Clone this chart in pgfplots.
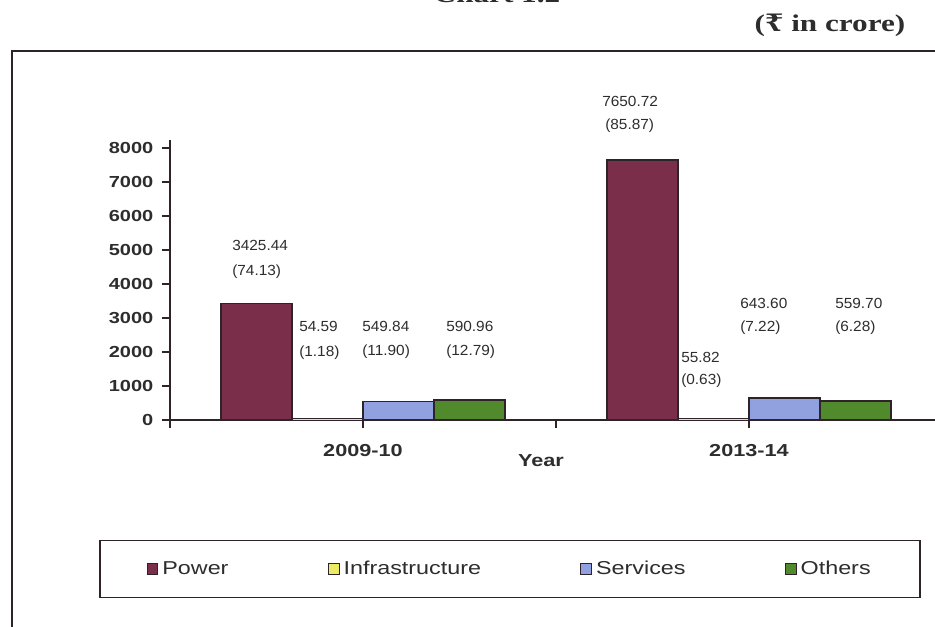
\documentclass[border=0pt]{standalone}
\usepackage{pgfplots}
\pgfplotsset{compat=1.18}
\usepackage{fontspec}
\setmainfont{Liberation Sans}[FakeStretch=1.25]
\newfontfamily\valfont{Liberation Sans}[FakeStretch=1.05]
\newfontfamily\serifb{Liberation Serif}[FakeStretch=1.3]
\newfontfamily\rupeefont{DejaVu Serif}[FakeStretch=1.1]
\definecolor{cpower}{RGB}{122,46,74}
\definecolor{cinfra}{RGB}{236,236,100}
\definecolor{cserv}{RGB}{145,160,222}
\definecolor{cother}{RGB}{80,138,45}
\definecolor{cline}{RGB}{45,35,40}
\definecolor{ctext}{RGB}{45,45,45}
\begin{document}
\begin{tikzpicture}
\begin{axis}[
  at={(127.5pt,154.5pt)}, anchor=south west,
  scale only axis, width=579pt, height=210pt,
  xmin=-0.5, xmax=1.5, ymin=0, ymax=8235,
  ybar=0pt, bar width=53.25pt,
  axis lines*=left,
  axis line style={line width=1.2pt, draw=cline},
  xtick={-0.5,0,0.5,1,1.5}, xticklabels={,2009-10,,2013-14,},
  ytick={0,1000,2000,3000,4000,5000,6000,7000,8000},
  tick align=outside, major tick length=6pt,
  tick style={line width=1pt, draw=cline},
  yticklabel style={font=\fontsize{12}{14}\selectfont\bfseries, xshift=-3pt, text=ctext},
  xticklabel style={font=\fontsize{13}{15}\selectfont\bfseries, yshift=-9pt, text=ctext},
  /pgf/number format/assume math mode=true,
  /pgf/number format/1000 sep={},
  clip=false,
  legend columns=4,
  legend cell align=left,
  legend style={at={(0.4404,-0.532)}, anchor=center, draw=cline, line width=1.1pt,
    inner xsep=35pt, inner ysep=13.5pt,
    font=\fontsize{14}{16}\selectfont, text=ctext,
    /tikz/every odd column/.append style={column sep=1pt},
    /tikz/every even column/.append style={column sep=72.5pt}},
  legend image code/.code={\draw[#1, line width=0.8pt, draw=cline] (0pt,-4pt) rectangle (8pt,4pt);},
]
\addplot[fill=cpower, draw=cline, line width=1.1pt] coordinates {(0,3425.44) (1,7650.72)};
\addplot[fill=cinfra, draw=cline, line width=0.6pt] coordinates {(0,54.59) (1,55.82)};
\addplot[fill=cserv, draw=cline, line width=1.1pt] coordinates {(0,549.84) (1,643.60)};
\addplot[fill=cother, draw=cline, line width=1.1pt] coordinates {(0,590.96) (1,559.70)};
\legend{Power, Infrastructure, Services, Others}
\end{axis}
\begin{scope}[x=0.75pt, y=-0.75pt, yshift=469.5pt]
  % outer frame
  \draw[line width=1.5pt, cline] (12,51) rectangle (980,700);
  % titles
  \node[anchor=base, font=\serifb\bfseries\fontsize{18}{20}\selectfont, text=ctext] at (497,3) {Chart 1.2};
  \node[anchor=center, font=\fontsize{18}{20}\selectfont\bfseries, text=ctext] at (830,25)
    {{\serifb (}{\rupeefont ₹}{\serifb\ in crore)}};
  \node[font=\fontsize{13}{15}\selectfont\bfseries, text=ctext] at (541,461) {Year};
  % value labels
  \begin{scope}[every node/.style={anchor=west, inner sep=0pt, font=\valfont\fontsize{11}{13}\selectfont, text=ctext}]
    \node at (232,245) {3425.44}; \node at (232,272) {(74.13)};
    \node at (299,326) {54.59};   \node at (299,353) {(1.18)};
    \node at (362,326) {549.84};  \node at (362,352) {(11.90)};
    \node at (446,326) {590.96};  \node at (446,352) {(12.79)};
    \node at (602,101) {7650.72}; \node at (605,126) {(85.87)};
    \node at (681,357) {55.82};   \node at (681,381) {(0.63)};
    \node at (740,303) {643.60};  \node at (740,328) {(7.22)};
    \node at (835,303) {559.70};  \node at (835,328) {(6.28)};
  \end{scope}
\end{scope}
\pgfresetboundingbox
\useasboundingbox (0,0) rectangle (701.25pt,469.5pt);
\end{tikzpicture}
\end{document}
